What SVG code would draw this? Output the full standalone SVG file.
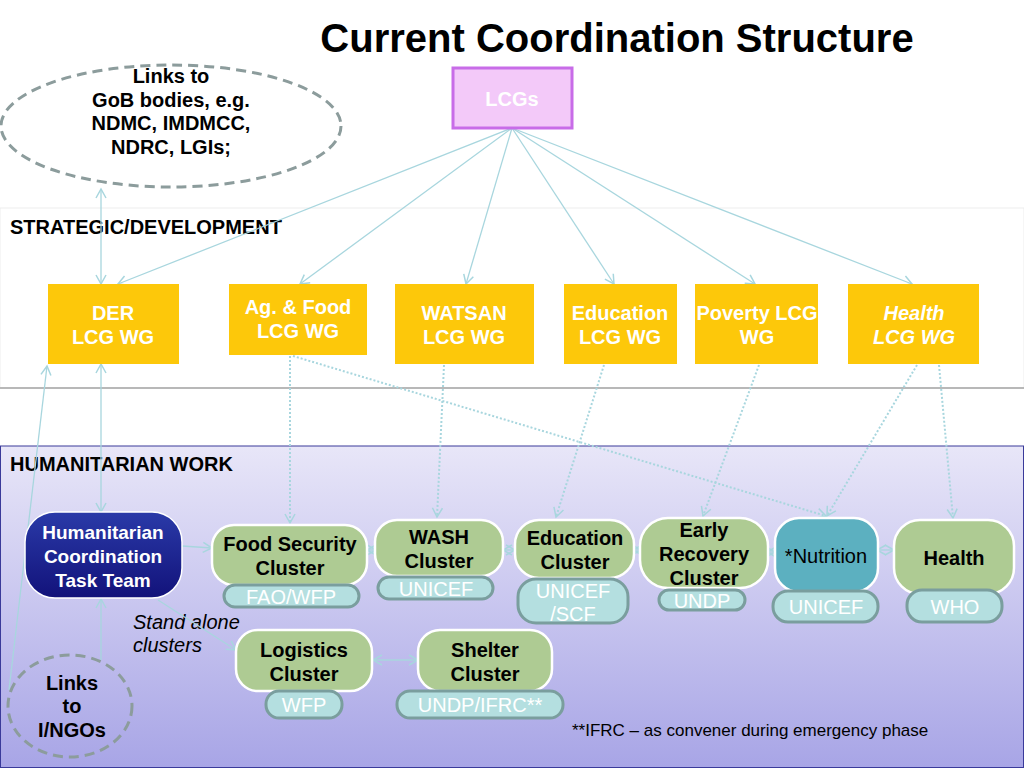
<svg xmlns="http://www.w3.org/2000/svg" width="1024" height="768" viewBox="0 0 1024 768">
<defs>
<linearGradient id="hum" x1="0" y1="0" x2="0" y2="1"><stop offset="0" stop-color="#e8e6f8"/><stop offset="1" stop-color="#a8a5e6"/></linearGradient>
<linearGradient id="hctt" x1="0" y1="0" x2="0" y2="1"><stop offset="0" stop-color="#2a3aa8"/><stop offset="1" stop-color="#12127a"/></linearGradient>
<marker id="ar" markerWidth="12" markerHeight="12" refX="10" refY="6" orient="auto-start-reverse" markerUnits="userSpaceOnUse"><path d="M1,1 L10,6 L1,11" fill="none" stroke="#a8d6de" stroke-width="1.5"/></marker>
<style>
.t{font-family:"Liberation Sans",Arial,sans-serif;font-weight:bold;text-anchor:middle}
.y{fill:#fdc80a}
.w{fill:#ffffff;font-size:20px}
.g{fill:#aecb93;stroke:#ffffff;stroke-width:2.5}
.b{fill:#000;font-size:20px}
.p{fill:#b4dfe0;stroke:#7a9e9e;stroke-width:3}
.pt{font-family:"Liberation Sans",Arial,sans-serif;text-anchor:middle;fill:#ffffff;font-size:20px}
.c{fill:none;stroke:#a8d6de;stroke-width:1.3}
.d{fill:none;stroke:#a8d6de;stroke-width:2;stroke-dasharray:2 2}
.e{fill:none;stroke:#8c9c9c;stroke-width:3;stroke-dasharray:10 6}
</style>
</defs>
<rect width="1024" height="768" fill="#ffffff"/>
<rect x="0" y="208" width="1024" height="180" fill="#ffffff" stroke="#ededed"/>
<line x1="0" y1="388" x2="1024" y2="388" stroke="#b8b8b8" stroke-width="2"/>
<rect x="0.5" y="446" width="1023" height="321.5" fill="url(#hum)" stroke="#3a3a9a" stroke-width="1"/>
<text x="617" y="52" class="t" font-size="40" fill="#000">Current Coordination Structure</text>
<text x="10" y="234" class="t" font-size="20" fill="#000" style="text-anchor:start">STRATEGIC/DEVELOPMENT</text>
<text x="10" y="471" class="t" font-size="20" fill="#000" style="text-anchor:start">HUMANITARIAN WORK</text>
<text x="133" y="629" font-family="Liberation Sans,Arial,sans-serif" font-style="italic" font-size="20" fill="#000">Stand alone</text>
<text x="133" y="652" font-family="Liberation Sans,Arial,sans-serif" font-style="italic" font-size="20" fill="#000">clusters</text>
<text x="572" y="736" font-family="Liberation Sans,Arial,sans-serif" font-size="17" fill="#000">**IFRC – as convener during emergency phase</text>
<g id="connectors">
<line class="c" x1="512" y1="128" x2="118" y2="284" marker-end="url(#ar)"/>
<line class="c" x1="512" y1="128" x2="300" y2="284" marker-end="url(#ar)"/>
<line class="c" x1="512" y1="128" x2="466" y2="284" marker-end="url(#ar)"/>
<line class="c" x1="512" y1="128" x2="614" y2="284" marker-end="url(#ar)"/>
<line class="c" x1="512" y1="128" x2="755" y2="284" marker-end="url(#ar)"/>
<line class="c" x1="512" y1="128" x2="912" y2="284" marker-end="url(#ar)"/>
<line class="c" x1="101" y1="189" x2="101" y2="284" marker-start="url(#ar)" marker-end="url(#ar)"/>
<line class="c" x1="101" y1="364" x2="101" y2="512" marker-start="url(#ar)" marker-end="url(#ar)"/>
<line class="c" x1="9" y1="690" x2="47" y2="366" marker-end="url(#ar)"/>
<line class="c" x1="101" y1="660" x2="101" y2="599" marker-end="url(#ar)"/>
<line class="c" x1="182" y1="546" x2="212" y2="548" marker-end="url(#ar)"/>
<line class="c" x1="158" y1="600" x2="236" y2="650" marker-end="url(#ar)"/>
<line class="c" x1="418" y1="660" x2="373" y2="660" marker-start="url(#ar)" marker-end="url(#ar)"/>
<line class="c" x1="367" y1="550" x2="376" y2="550" marker-start="url(#ar)" marker-end="url(#ar)"/>
<line class="c" x1="503" y1="550" x2="515" y2="550" marker-start="url(#ar)" marker-end="url(#ar)"/>
<line class="c" x1="633" y1="550" x2="641" y2="550" marker-start="url(#ar)" marker-end="url(#ar)"/>
<line class="c" x1="767" y1="552" x2="775" y2="552" marker-start="url(#ar)" marker-end="url(#ar)"/>
<line class="c" x1="877" y1="550" x2="894" y2="550" marker-start="url(#ar)" marker-end="url(#ar)"/>
<line class="d" x1="290" y1="356" x2="290" y2="523" marker-end="url(#ar)"/>
<line class="d" x1="293" y1="356" x2="826" y2="516" marker-end="url(#ar)"/>
<line class="d" x1="444" y1="365" x2="437" y2="517" marker-end="url(#ar)"/>
<line class="d" x1="604" y1="365" x2="556" y2="517" marker-end="url(#ar)"/>
<line class="d" x1="759" y1="365" x2="703" y2="516" marker-end="url(#ar)"/>
<line class="d" x1="917" y1="365" x2="827" y2="516" marker-end="url(#ar)"/>
<line class="d" x1="939" y1="365" x2="953" y2="518" marker-end="url(#ar)"/>
</g>
<g id="gob">
<ellipse cx="171" cy="126" rx="170" ry="61" fill="#ffffff" class="e"/>
<text class="t b" x="171" y="83">Links to</text>
<text class="t b" x="171" y="107">GoB bodies, e.g.</text>
<text class="t b" x="171" y="130">NDMC, IMDMCC,</text>
<text class="t b" x="171" y="154">NDRC, LGIs;</text>
</g>
<g id="lcgs">
<rect x="453" y="68" width="119" height="60" fill="#f3c9f9" stroke="#c86ce8" stroke-width="3"/>
<text class="t w" x="512" y="106">LCGs</text>
</g>
<g id="der"><rect class="y" x="48" y="284" width="131" height="80"/><text class="t w" x="113" y="320">DER</text><text class="t w" x="113" y="344">LCG WG</text></g>
<g id="agfood"><rect class="y" x="229" y="284" width="138" height="71"/><text class="t w" x="298" y="314">Ag. &amp; Food</text><text class="t w" x="298" y="338">LCG WG</text></g>
<g id="watsan"><rect class="y" x="395" y="284" width="139" height="80"/><text class="t w" x="464" y="320">WATSAN</text><text class="t w" x="464" y="344">LCG WG</text></g>
<g id="education"><rect class="y" x="564" y="284" width="113" height="80"/><text class="t w" x="620" y="320">Education</text><text class="t w" x="620" y="344">LCG WG</text></g>
<g id="poverty"><rect class="y" x="695" y="284" width="123" height="80"/><text class="t w" x="757" y="320">Poverty LCG</text><text class="t w" x="757" y="344">WG</text></g>
<g id="health-lcg"><rect class="y" x="848" y="284" width="131" height="80"/><text class="t w" x="914" y="320" font-style="italic">Health</text><text class="t w" x="914" y="344" font-style="italic">LCG WG</text></g>
<g id="hctt">
<rect x="25" y="512" width="157" height="86" rx="30" fill="url(#hctt)" stroke="#ffffff" stroke-width="1.5"/>
<text class="t w" x="103" y="539" font-size="19" style="font-size:19px">Humanitarian</text>
<text class="t w" x="103" y="563" style="font-size:19px">Coordination</text>
<text class="t w" x="103" y="587" style="font-size:19px">Task Team</text>
</g>
<g id="foodsec">
<rect class="g" x="212" y="525" width="155" height="60" rx="22"/>
<text class="t b" x="290" y="551">Food Security</text><text class="t b" x="290" y="575">Cluster</text>
<rect class="p" x="224" y="585" width="135" height="22" rx="11"/><text class="pt" x="291" y="604">FAO/WFP</text>
</g>
<g id="wash">
<rect class="g" x="375" y="520" width="128" height="56" rx="22"/>
<text class="t b" x="439" y="544">WASH</text><text class="t b" x="439" y="568">Cluster</text>
<rect class="p" x="378" y="577" width="115" height="22" rx="11"/><text class="pt" x="436" y="596">UNICEF</text>
</g>
<g id="edu-cluster">
<rect class="g" x="515" y="520" width="119" height="58" rx="24"/>
<text class="t b" x="575" y="545">Education</text><text class="t b" x="575" y="569">Cluster</text>
<rect class="p" x="518" y="579" width="110" height="44" rx="18"/><text class="pt" x="573" y="598">UNICEF</text><text class="pt" x="573" y="621">/SCF</text>
</g>
<g id="early">
<rect class="g" x="640" y="518" width="128" height="70" rx="28"/>
<text class="t b" x="704" y="537">Early</text><text class="t b" x="704" y="561">Recovery</text><text class="t b" x="704" y="585">Cluster</text>
<rect class="p" x="659" y="590" width="86" height="20" rx="10"/><text class="pt" x="702" y="608">UNDP</text>
</g>
<g id="nutrition">
<rect x="775" y="518" width="103" height="74" rx="24" fill="#5cb0c0" stroke="#ffffff" stroke-width="2.5"/>
<text x="826" y="563" font-family="Liberation Sans,Arial,sans-serif" font-size="20" text-anchor="middle" fill="#000">*Nutrition</text>
<rect class="p" x="773" y="591" width="105" height="31" rx="15"/><text class="pt" x="826" y="614">UNICEF</text>
</g>
<g id="health">
<rect class="g" x="894" y="520" width="120" height="74" rx="26"/>
<text class="t b" x="954" y="565">Health</text>
<rect class="p" x="907" y="590" width="95" height="32" rx="15"/><text class="pt" x="955" y="614">WHO</text>
</g>
<g id="logistics">
<rect class="g" x="236" y="630" width="136" height="61" rx="22"/>
<text class="t b" x="304" y="657">Logistics</text><text class="t b" x="304" y="681">Cluster</text>
<rect class="p" x="266" y="691" width="76" height="27" rx="13"/><text class="pt" x="304" y="712">WFP</text>
</g>
<g id="shelter">
<rect class="g" x="418" y="630" width="134" height="61" rx="22"/>
<text class="t b" x="485" y="657">Shelter</text><text class="t b" x="485" y="681">Cluster</text>
<rect class="p" x="397" y="691" width="166" height="27" rx="13"/><text class="pt" x="480" y="712">UNDP/IFRC**</text>
</g>
<g id="ingos">
<ellipse cx="70" cy="706" rx="62" ry="51" class="e" stroke-width="2.5"/>
<text class="t b" x="72" y="690">Links</text><text class="t b" x="72" y="713">to</text><text class="t b" x="72" y="737">I/NGOs</text>
</g>
</svg>
